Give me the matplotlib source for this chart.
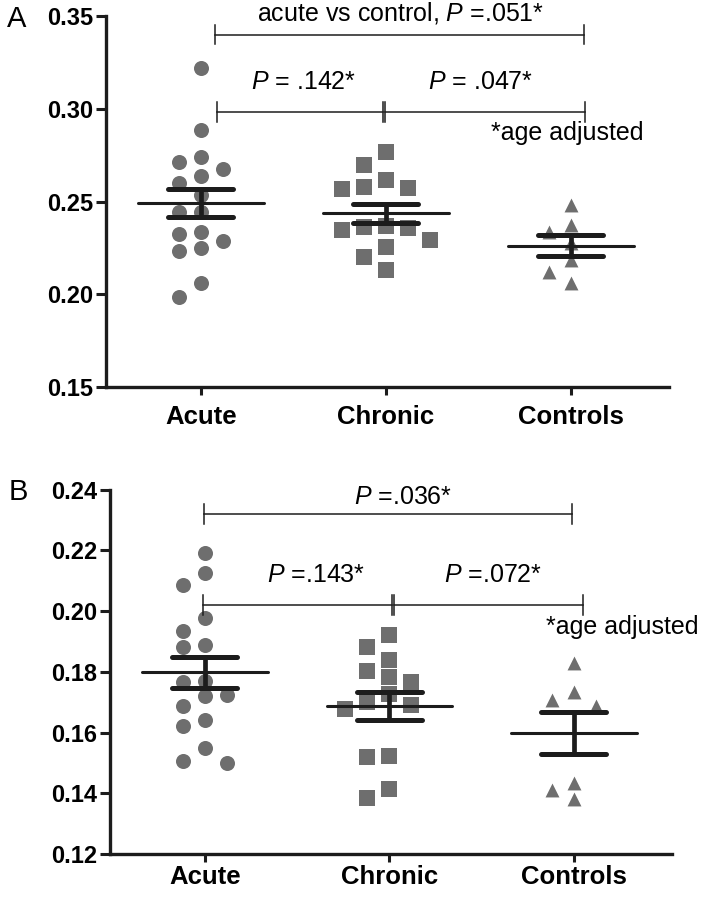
import numpy as np
import matplotlib.pyplot as plt

plt.rcParams['font.family'] = ['Liberation Sans', 'DejaVu Sans']
plt.rcParams['mathtext.fontset'] = 'custom'
plt.rcParams['mathtext.rm'] = 'Liberation Sans'
plt.rcParams['mathtext.it'] = 'Liberation Sans:italic'

groups = ['Acute', 'Chronic', 'Controls']

# Painel A
a_acute = [0.3218, 0.2885, 0.2742, 0.2715, 0.2674, 0.2637, 0.2598, 0.2535, 0.2445,
           0.2445, 0.2337, 0.2323, 0.2289, 0.2248, 0.2235, 0.2062, 0.1984]
a_chronic = [0.2768, 0.2697, 0.2616, 0.2577, 0.2571, 0.2566, 0.2368, 0.2364, 0.2356,
             0.2346, 0.2292, 0.2256, 0.2199, 0.2131]
a_controls = [0.2481, 0.2373, 0.2337, 0.2275, 0.2185, 0.2122, 0.2059]
a_ticks = [0.15, 0.20, 0.25, 0.30, 0.35]

# Painel B
b_acute = [0.2191, 0.2124, 0.2086, 0.1977, 0.1934, 0.1890, 0.1882, 0.1771, 0.1766,
           0.1723, 0.1719, 0.1687, 0.1641, 0.1623, 0.1549, 0.1508, 0.1500]
b_chronic = [0.1920, 0.1882, 0.1838, 0.1804, 0.1784, 0.1766, 0.1726, 0.1701, 0.1690,
             0.1679, 0.1522, 0.1519, 0.1414, 0.1386]
b_controls = [0.1828, 0.1733, 0.1706, 0.1687, 0.1435, 0.1411, 0.1381]
b_ticks = [0.12, 0.14, 0.16, 0.18, 0.20, 0.22, 0.24]

markers = ['o', 's', '^']
sizes = [117, 117, 100]
gray = '#6e6e6e'
dark = '#1c1c1c'
fs_note = 18


def swarm_offsets(ax, vals, slot_px=22, min_px=15):
    vals = np.asarray(vals)
    ypx = ax.transData.transform(np.column_stack([np.zeros(len(vals)), vals]))[:, 1]
    slots = np.zeros(len(vals))
    placed = {}
    for i in np.argsort(-vals):
        for s in [0, -1, 1, -2, 2, -3, 3]:
            if all(abs(ypx[i] - ypx[j]) >= min_px for j in placed.get(s, [])):
                slots[i] = s
                placed.setdefault(s, []).append(i)
                break
    px_per_unit = ax.transData.transform((1, 0))[0] - ax.transData.transform((0, 0))[0]
    return slots * slot_px / px_per_unit


def bracket(ax, x0, x1, y, h):
    kw = dict(color=dark, lw=1.1, clip_on=False)
    ax.plot([x0, x1], [y, y], **kw)
    ax.plot([x0, x0], [y - h, y + h], **kw)
    ax.plot([x1, x1], [y - h, y + h], **kw)


def painel(ax, dados, ticks, xpad):
    ax.set_xlim(0.486, 3.53)
    ax.set_ylim(ticks[0], ticks[-1])
    for i, vals in enumerate(dados):
        x = i + 1 + swarm_offsets(ax, vals)
        ax.scatter(x, vals, s=sizes[i], marker=markers[i], color=gray,
                   linewidths=0, zorder=2, clip_on=False)
        m = np.mean(vals)
        sem = np.std(vals, ddof=1) / np.sqrt(len(vals))
        ax.plot([i + 1 - 0.34, i + 1 + 0.34], [m, m], color=dark, lw=2.2, zorder=3,
                solid_capstyle='round')
        for yy in (m - sem, m + sem):
            ax.plot([i + 1 - 0.176, i + 1 + 0.176], [yy, yy], color=dark, lw=3.6,
                    zorder=3, solid_capstyle='round')
        ax.plot([i + 1, i + 1], [m - sem, m + sem], color=dark, lw=3.4, zorder=3)
    ax.set_xticks([1, 2, 3])
    ax.set_xticklabels(groups, fontsize=18.5, fontweight='bold')
    ax.set_yticks(ticks)
    ax.set_yticklabels([f'{t:.2f}' for t in ticks], fontsize=17, fontweight='bold')
    for s in ('top', 'right'):
        ax.spines[s].set_visible(False)
    for s in ('left', 'bottom'):
        ax.spines[s].set_linewidth(2.4)
        ax.spines[s].set_color(dark)
    ax.tick_params(axis='both', direction='out', length=7, width=2.2, color=dark, pad=2)
    ax.tick_params(axis='x', length=6, pad=xpad)


fig = plt.figure(figsize=(7.1, 9), dpi=100)

ax1 = fig.add_axes([0.149, 0.570, 0.793, 0.412])
painel(ax1, [a_acute, a_chronic, a_controls], a_ticks, 7)
bracket(ax1, 1.077, 3.072, 0.3401, 0.0049)
bracket(ax1, 1.085, 1.985, 0.2981, 0.0054)
bracket(ax1, 1.996, 3.076, 0.2981, 0.0054)
ax1.text(2.08, 0.3478, 'acute vs control, $P$ =.051*', ha='center', va='baseline', fontsize=fs_note)
ax1.text(1.558, 0.3110, '$P$ = .142*', ha='center', va='baseline', fontsize=fs_note)
ax1.text(2.514, 0.3110, '$P$ = .047*', ha='center', va='baseline', fontsize=fs_note)
ax1.text(2.571, 0.2832, '*age adjusted', ha='left', va='baseline', fontsize=fs_note)

ax2 = fig.add_axes([0.155, 0.051, 0.791, 0.405])
painel(ax2, [b_acute, b_chronic, b_controls], b_ticks, 2)
bracket(ax2, 0.997, 2.991, 0.2319, 0.0033)
bracket(ax2, 0.988, 2.015, 0.2020, 0.0033)
bracket(ax2, 2.025, 3.05, 0.2020, 0.0033)
ax2.text(2.072, 0.2351, '$P$ =.036*', ha='center', va='baseline', fontsize=fs_note)
ax2.text(1.604, 0.2097, '$P$ =.143*', ha='center', va='baseline', fontsize=fs_note)
ax2.text(2.559, 0.2097, '$P$ =.072*', ha='center', va='baseline', fontsize=fs_note)
ax2.text(2.847, 0.1923, '*age adjusted', ha='left', va='baseline', fontsize=fs_note)

fig.text(0.010, 0.979, 'A', fontsize=21, va='center', ha='left')
fig.text(0.012, 0.453, 'B', fontsize=21, va='center', ha='left')

fig.savefig('out.png', dpi=100)
